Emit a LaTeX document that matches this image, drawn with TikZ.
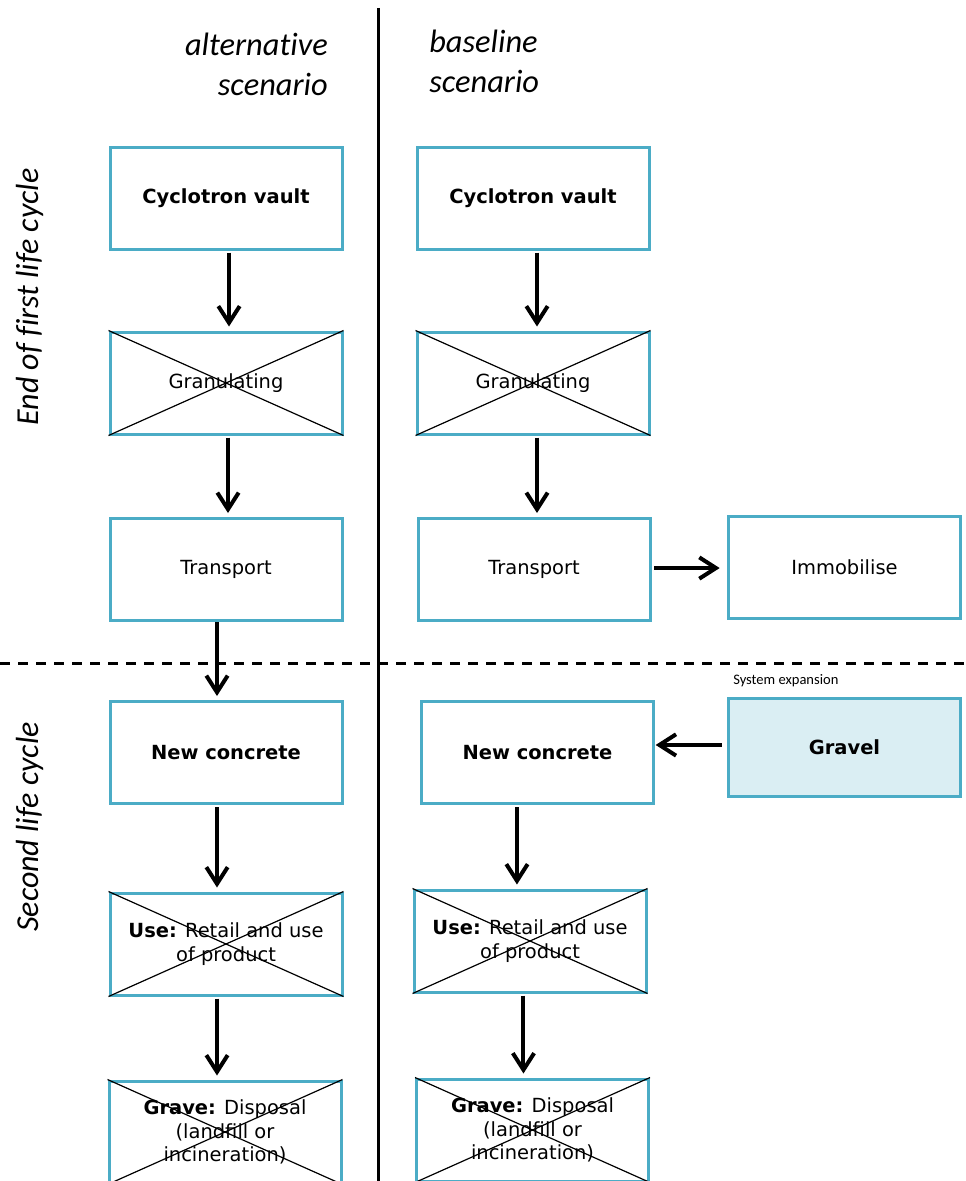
\documentclass[tikz,border=0pt]{standalone}
\usepackage{fontspec}
\setmainfont{DejaVu Sans}
\newfontfamily\hdrfont[Ligatures=NoCommon]{Carlito}
\usetikzlibrary{arrows.meta}
\definecolor{boxline}{HTML}{4BACC6}
\definecolor{boxfill}{HTML}{DAEEF3}

% vertical flow arrow: start under #2 (shifted by #1), straight down to the top of #3
\newcommand\flowdown[3]{\draw[arr] ([xshift=#1]#2.south) coordinate (fd) -- (fd |- #3.north);}

\begin{document}
\begin{tikzpicture}[x=0.75pt,y=-0.75pt,
  stage/.style={draw=boxline, line width=2.25pt, minimum width=174pt, minimum height=76.5pt,
    inner sep=0pt, align=center, font=\fontsize{14.6}{17.8}\selectfont},
  crossline/.style={line width=0.9pt, black},
  arr/.style={line width=3pt, -{Straight Barb[length=12.5pt,width=16pt]}, shorten <=1.5pt, shorten >=3pt},
  hdr/.style={font=\hdrfont\itshape\fontsize{24.3}{29.5}\selectfont, inner sep=0pt},
  side/.style={font=\hdrfont\itshape\fontsize{24}{28}\selectfont, inner sep=0pt, rotate=90}
]
\useasboundingbox (0,0) rectangle (966,1181);
\clip (0,0) rectangle (966,1181);

% separators between scenarios and between life cycles
\draw[line width=2.25pt] (378,8) -- (378,1181);
\draw[line width=2.25pt, dash pattern=on 7.5pt off 6pt] (0,663) -- (966,663);

% column and row headings
\node[hdr, anchor=north east, align=right] (altH) at (328,33) {alternative\\scenario};
\node[hdr, anchor=north west, align=left] (baseH) at (429,30) {baseline\\scenario};
\node[side] (firstL) at (30,297) {End of first life cycle};
\node[side] (secondL) at (30,827) {Second life cycle};

% alternative scenario
\node[stage] (cvL) at (226,198) {\textbf{Cyclotron vault}};
\node[stage] (grL) at (226,383) {Granulating};
\node[stage] (trL) at (226,569.5) {Transport};
\node[stage] (ncL) at (226,752.5) {\textbf{New concrete}};
\node[stage] (useL) at (226,944) {\textbf{Use:} Retail and use\\of product};
\node[stage] (gvL) at (225,1132) {\textbf{Grave:} Disposal\\(landfill or\\incineration)};

% baseline scenario
\node[stage] (cvR) at (533,198) {\textbf{Cyclotron vault}};
\node[stage] (grR) at (533,383) {Granulating};
\node[stage] (trR) at (534,569.5) {Transport};
\node[stage] (imR) at (844.5,567.5) {Immobilise};
\node[stage] (ncR) at (537.5,752.5) {\textbf{New concrete}};
\node[stage, fill=boxfill, minimum height=74pt] (gravel) at (844.5,747.5) {\textbf{Gravel}};
\node[anchor=base west, inner sep=0pt, font=\hdrfont\fontsize{10.9}{13}\selectfont] (sysexp) at (733,684) {System expansion};
\node[stage] (useR) at (530,941) {\textbf{Use:} Retail and use\\of product};
\node[stage] (gvR) at (532.5,1130) {\textbf{Grave:} Disposal\\(landfill or\\incineration)};

% steps that are crossed out
\foreach \n in {grL,grR,useL,useR,gvL,gvR}
  \draw[crossline] (\n.north west) -- (\n.south east) (\n.north east) -- (\n.south west);

% flows
\flowdown{2.25pt}{cvL}{grL}
\flowdown{1.5pt}{grL}{trL}
\draw[arr, shorten <=0pt] ([xshift=-6.75pt]trL.south) coordinate (t1) -- (t1 |- ncL.north);
\flowdown{-6.75pt}{ncL}{useL}
\flowdown{-6.75pt}{useL}{gvL}

\flowdown{3pt}{cvR}{grR}
\flowdown{3pt}{grR}{trR}
\draw[arr, shorten <=2pt, shorten >=5.5pt] ([yshift=1.1pt]trR.east) coordinate (t2) -- (t2 -| imR.west);
\draw[arr, shorten <=4pt, shorten >=0.5pt] ([yshift=1.9pt]gravel.west) coordinate (t3) -- (t3 -| ncR.east);
\flowdown{-15.4pt}{ncR}{useR}
\flowdown{-4.9pt}{useR}{gvR}
\end{tikzpicture}
\end{document}
